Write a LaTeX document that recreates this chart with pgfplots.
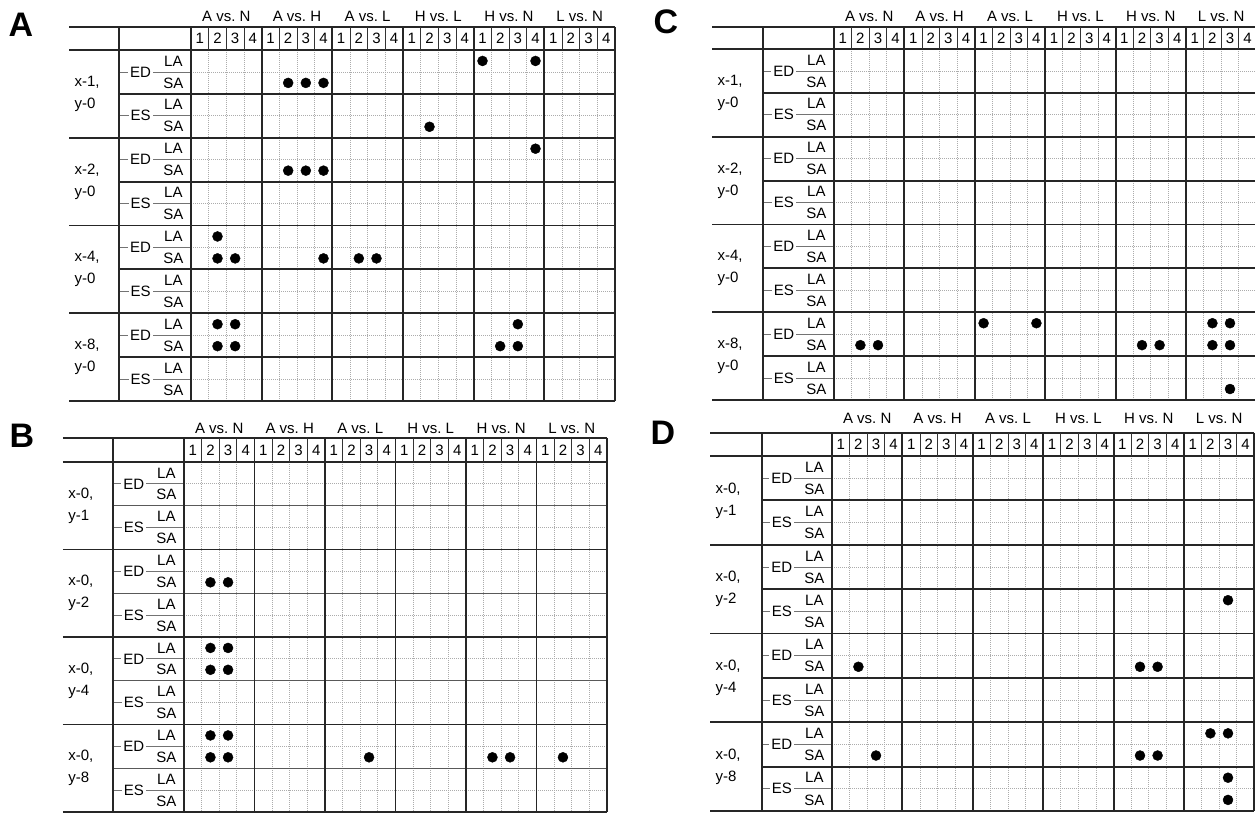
\documentclass[border=0pt]{standalone}
\usepackage{pgfplots}
\pgfplotsset{compat=1.18}
\usepackage{fontspec}
\setmainfont{Liberation Sans}

\tikzset{
 thk/.style={line width=1.9pt, black!85},
 thn/.style={line width=1pt, black!80},
 midl/.style={line width=1pt, black!65},
 fracline/.style={line width=0.8pt, black!55},
 gridl/.style={line width=0.8pt, gray!65, dash pattern=on 1pt off 1pt},
 lbl/.style={font=\fontsize{15}{22}\selectfont, inner sep=0pt},
 plet/.style={font=\bfseries\fontsize{34}{34}\selectfont, inner sep=0pt},
}

\pgfplotsset{
  panel/.style={
    scale only axis, clip=false, hide axis,
    xmin=0,xmax=24,ymin=0,ymax=16, y dir=reverse,
    xtick=\empty, ytick=\empty,
    anchor=north west,
  },
  dots/.style={only marks, mark=*, mark size=5pt, black, mark options={draw=black,fill=black}},
}

% #1 L1, #2 L2, #3 header top (neg), #4 header mid, #5 group label y, #6 style of ED/ES separator
\newcommand{\tableframe}[6]{%
 \pgfplotsinvokeforeach{1,2,3,5,6,7,9,10,11,13,14,15,17,18,19,21,22,23}{\draw[gridl] (##1,0) -- (##1,16);}
 \pgfplotsinvokeforeach{1,3,5,7,9,11,13,15}{\draw[gridl] (0,##1) -- (24,##1);}
 \draw[thk] (#1,#3) -- (24,#3);
 \pgfplotsinvokeforeach{0,4,8,12,16}{\draw[thk] (#1,##1) -- (24,##1);}
 \pgfplotsinvokeforeach{2,6,10,14}{\draw[#6] (#2,##1) -- (24,##1);}
 \pgfplotsinvokeforeach{1,3,5,7,9,11,13,15}{\draw[fracline] (#2,##1) -- (0,##1);}
 \draw[thk] (#2,#3) -- (#2,16);
 \pgfplotsinvokeforeach{0,4,8,12,16,20,24}{\draw[thk] (##1,#3) -- (##1,16);}
 \pgfplotsinvokeforeach{1,2,3,5,6,7,9,10,11,13,14,15,17,18,19,21,22,23}{\draw[thn] (##1,#3) -- (##1,0);}
 \pgfplotsinvokeforeach{0,4,8,12,16,20}{%
   \node[lbl] at (##1+0.5,#4) {1};
   \node[lbl] at (##1+1.5,#4) {2};
   \node[lbl] at (##1+2.5,#4) {3};
   \node[lbl] at (##1+3.5,#4) {4};
 }
 \node[lbl] at (2,#5) {A vs.\ N};
 \node[lbl] at (6,#5) {A vs.\ H};
 \node[lbl] at (10,#5) {A vs.\ L};
 \node[lbl] at (14,#5) {H vs.\ L};
 \node[lbl] at (18,#5) {H vs.\ N};
 \node[lbl] at (22,#5) {L vs.\ N};
 \pgfplotsinvokeforeach{1,5,9,13}{\node[lbl,fill=white,inner sep=2pt] at (-2.85,##1) {ED};}
 \pgfplotsinvokeforeach{3,7,11,15}{\node[lbl,fill=white,inner sep=2pt] at (-2.85,##1) {ES};}
 \pgfplotsinvokeforeach{0.5,2.5,4.5,6.5,8.5,10.5,12.5,14.5}{\node[lbl] at (-1.0,##1) {LA};}
 \pgfplotsinvokeforeach{1.5,3.5,5.5,7.5,9.5,11.5,13.5,15.5}{\node[lbl] at (-1.0,##1) {SA};}
}
\newcommand{\condsX}[1]{%
 \node[lbl,anchor=west,align=left] at (#1+0.3,2) {x-1,\\y-0};
 \node[lbl,anchor=west,align=left] at (#1+0.3,6) {x-2,\\y-0};
 \node[lbl,anchor=west,align=left] at (#1+0.3,10) {x-4,\\y-0};
 \node[lbl,anchor=west,align=left] at (#1+0.3,14) {x-8,\\y-0};
}
\newcommand{\condsY}[1]{%
 \node[lbl,anchor=west,align=left] at (#1+0.3,2) {x-0,\\y-1};
 \node[lbl,anchor=west,align=left] at (#1+0.3,6) {x-0,\\y-2};
 \node[lbl,anchor=west,align=left] at (#1+0.3,10) {x-0,\\y-4};
 \node[lbl,anchor=west,align=left] at (#1+0.3,14) {x-0,\\y-8};
}

\begin{document}
\begin{tikzpicture}
\path[use as bounding box, fill=white] (0,0) rectangle (1255pt,813pt);

% Panel A
\begin{axis}[panel, at={(191pt,763pt)}, width=424pt, height=351pt]
\tableframe{-6.905}{-4.075}{-1.05}{-0.52}{-1.55}{thk}
\condsX{-6.905}
\addplot[dots] coordinates {(16.5,0.5) (19.5,0.5) (5.5,1.5) (6.5,1.5) (7.5,1.5) (13.5,3.5) (19.5,4.5) (5.5,5.5) (6.5,5.5) (7.5,5.5) (1.5,8.5) (1.5,9.5) (2.5,9.5) (7.5,9.5) (9.5,9.5) (10.5,9.5) (1.5,12.5) (2.5,12.5) (18.5,12.5) (1.5,13.5) (2.5,13.5) (17.5,13.5) (18.5,13.5)};
\end{axis}

% Panel B
\begin{axis}[panel, at={(184pt,351pt)}, width=423pt, height=350pt]
\tableframe{-6.87}{-4.03}{-1.09}{-0.55}{-1.55}{midl}
\condsY{-6.87}
\addplot[dots] coordinates {(1.5,5.5) (2.5,5.5) (1.5,8.5) (2.5,8.5) (1.5,9.5) (2.5,9.5) (1.5,12.5) (2.5,12.5) (1.5,13.5) (2.5,13.5) (10.5,13.5) (17.5,13.5) (18.5,13.5) (21.5,13.5)};
\end{axis}

% Panel C
\begin{axis}[panel, at={(834pt,764pt)}, width=422.4pt, height=351pt]
\tableframe{-6.93}{-4.03}{-1.0}{-0.5}{-1.5}{thk}
\condsX{-6.93}
\addplot[dots] coordinates {(8.5,12.5) (11.5,12.5) (21.5,12.5) (22.5,12.5) (1.5,13.5) (2.5,13.5) (17.5,13.5) (18.5,13.5) (21.5,13.5) (22.5,13.5) (22.5,15.5)};
\end{axis}

% Panel D
\begin{axis}[panel, at={(832pt,357pt)}, width=422.4pt, height=355pt]
\tableframe{-6.93}{-3.98}{-1.04}{-0.52}{-1.71}{thk}
\condsY{-6.93}
\addplot[dots] coordinates {(22.5,6.5) (1.5,9.5) (17.5,9.5) (18.5,9.5) (21.5,12.5) (22.5,12.5) (2.5,13.5) (17.5,13.5) (18.5,13.5) (22.5,14.5) (22.5,15.5)};
\end{axis}

\node[plet] at (21pt,788pt) {A};
\node[plet] at (22pt,377pt) {B};
\node[plet] at (666pt,791pt) {C};
\node[plet] at (663pt,380pt) {D};
\end{tikzpicture}
\end{document}
